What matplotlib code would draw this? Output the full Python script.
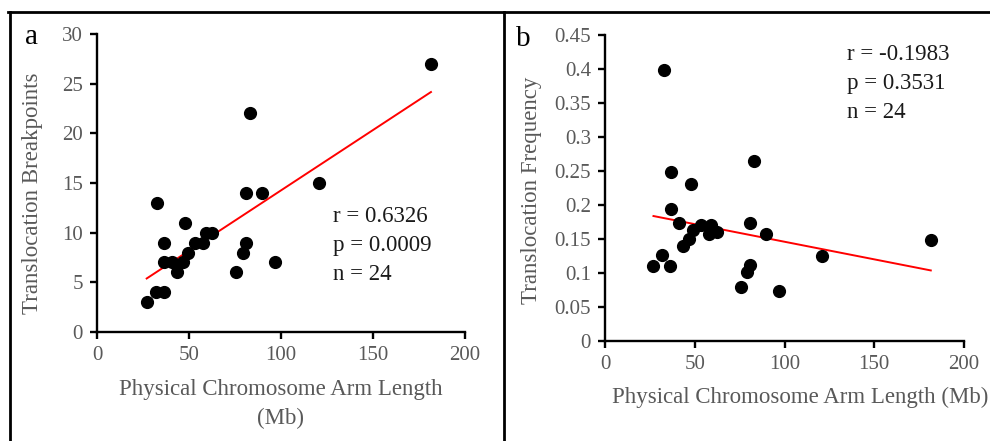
import numpy as np
import matplotlib.pyplot as plt
from matplotlib.lines import Line2D

# values
arm_length = [181.5, 83.2, 120.8, 80.8, 89.7, 32.7, 48.0, 59.0, 62.4, 36.6, 53.4, 57.8,
              80.8, 49.3, 79.1, 36.5, 41.0, 47.0, 97.0, 43.4, 75.8, 32.0, 36.2, 27.0]
breakpoints = [27, 22, 15, 14, 14, 13, 11, 10, 10, 9, 9, 9,
               9, 8, 8, 7, 7, 7, 7, 6, 6, 4, 4, 3]
frequency = [0.149, 0.265, 0.125, 0.174, 0.157, 0.398, 0.231, 0.171, 0.161, 0.249, 0.170, 0.157,
             0.112, 0.163, 0.102, 0.194, 0.173, 0.150, 0.073, 0.140, 0.080, 0.127, 0.111, 0.111]
stats_a = ['r = 0.6326', 'p = 0.0009', 'n = 24']
stats_b = ['r = -0.1983', 'p = 0.3531', 'n = 24']

plt.rcParams['font.family'] = ['Liberation Serif', 'DejaVu Serif']
W, H = 990, 441
fig = plt.figure(figsize=(W / 100, H / 100), dpi=100)
gray = '#595959'


def px(x, y):
    return x / W, 1 - y / H


def style(ax, ymax, ystep):
    ticks = np.arange(0, ymax + ystep / 2, ystep)
    ax.set_xlim(0, 200)
    ax.set_ylim(0, ymax)
    ax.set_xticks(np.arange(0, 201, 50))
    ax.set_yticks(ticks)
    ax.set_yticklabels(['%g' % round(v, 2) for v in ticks])
    for s in ['top', 'right']:
        ax.spines[s].set_visible(False)
    for s in ['left', 'bottom']:
        ax.spines[s].set_linewidth(1.7)
        ax.spines[s].set_color('black')
    ax.tick_params(direction='out', length=5, width=1.7, colors='black',
                   labelcolor=gray, labelsize=15, pad=5)
    ax.set_facecolor('none')


def trend(ax, x, y):
    x = np.array(x)
    k, b = np.polyfit(x, y, 1)
    xs = np.array([x.min(), x.max()])
    ax.plot(xs, k * xs + b, color='red', lw=1.4, zorder=2)


# panel a
ax1 = fig.add_axes([97 / W, 1 - 332 / H, 368 / W, 298 / H])
ax1.scatter(arm_length, breakpoints, s=72, color='black', zorder=3, clip_on=False)
trend(ax1, arm_length, breakpoints)
style(ax1, 30, 5)

# panel b
ax2 = fig.add_axes([605 / W, 1 - 341 / H, 359 / W, 306 / H])
ax2.scatter(arm_length, frequency, s=72, color='black', zorder=3, clip_on=False)
trend(ax2, arm_length, frequency)
style(ax2, 0.45, 0.05)

# axis labels
fig.text(*px(33, 193), 'Translocation Breakpoints', rotation=90, ha='center', va='center',
         fontsize=16.5, color=gray)
fig.text(*px(281, 390), 'Physical Chromosome Arm Length', ha='center', va='center',
         fontsize=16.5, color=gray)
fig.text(*px(281, 418), '(Mb)', ha='center', va='center', fontsize=16.5, color=gray)
fig.text(*px(532, 190), 'Translocation Frequency', rotation=90, ha='center', va='center',
         fontsize=16.5, color=gray)
fig.text(*px(800, 397), 'Physical Chromosome Arm Length (Mb)', ha='center', va='center',
         fontsize=16.5, color=gray)

# stats
for i, t in enumerate(stats_a):
    fig.text(*px(333, 217 + i * 28.5), t, ha='left', va='center', fontsize=16.5, color='#1a1a1a')
for i, t in enumerate(stats_b):
    fig.text(*px(847, 55 + i * 29), t, ha='left', va='center', fontsize=16.5, color='#1a1a1a')

# panel letters
fig.text(*px(32, 37), 'a', ha='center', va='center', fontsize=21)
fig.text(*px(523, 39), 'b', ha='center', va='center', fontsize=21)

# panel frames
fig.add_artist(Line2D([8 / W, 1], [1 - 11.5 / H] * 2, color='black', lw=2))
fig.add_artist(Line2D([9.5 / W] * 2, [0, 1 - 11.5 / H], color='black', lw=2))
fig.add_artist(Line2D([504 / W] * 2, [0, 1 - 11.5 / H], color='black', lw=2))

fig.savefig('out.png', dpi=100)
